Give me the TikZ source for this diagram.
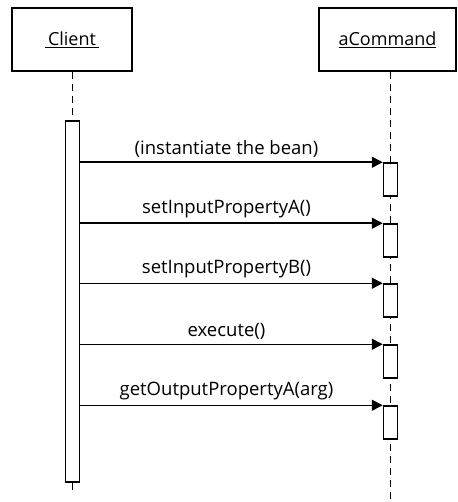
\documentclass[tikz,border=0pt]{standalone}
\usepackage{fontspec}
\setmainfont{Open Sans}
\usetikzlibrary{arrows.meta}

\tikzset{
  object/.style={draw,line width=1.5pt,fill=white,minimum width=120pt,minimum height=63pt,inner sep=0pt},
  actbar/.style={draw,line width=1.5pt,fill=white,minimum width=14pt,inner sep=0pt},
  lifeline/.style={line width=1.5pt,dash pattern=on 7pt off 5pt},
  msg/.style={line width=1.5pt,-{Triangle[length=11pt,width=11pt]}},
  msglabel/.style={above=1pt,xshift=-5pt,font=\fontsize{18.5}{21}\selectfont}
}

\begin{document}
\begin{tikzpicture}[x=1pt,y=-1pt]
        \useasboundingbox (0,0) rectangle (457,502) ;
        % objects
        \node[object] (client) at (72,39.5)
          {\fontsize{18}{21}\selectfont\underline{\,Client\,}} ;
        \node[object,minimum width=137pt] (cmd) at (387.5,39.5)
          {\fontsize{18}{21}\selectfont\underline{aCommand}} ;
        \coordinate (clientend) at (72.5,490) ;
        \coordinate (cmdend) at (390.5,502) ;
        % lifelines
        \draw[lifeline] (cmd.south -| cmdend) -- (cmdend) ;
        \node[actbar,minimum height=361pt] (clientbar) at (72.5,301.5) {} ;
        \draw[lifeline] (client.south -| clientbar.north) -- (clientbar.north) ;
        \draw[lifeline] (clientbar.south) -- (clientend) ;
        % activations of aCommand
        \node[actbar,minimum height=33pt] (recvA) at (390.5,179.5) {} ;
        \node[actbar,minimum height=33pt] (recvB) at (390.5,240.5) {} ;
        \node[actbar,minimum height=33pt] (recvC) at (390.5,300.5) {} ;
        \node[actbar,minimum height=33pt] (recvD) at (390.5,361.5) {} ;
        \node[actbar,minimum height=33pt] (recvE) at (390.5,422.5) {} ;
        % messages
        \draw[msg] (clientbar.east |- recvA.north west) -- (recvA.north west)
          node[msglabel,midway] {(instantiate the bean)} ;
        \draw[msg] (clientbar.east |- recvB.north west) -- (recvB.north west)
          node[msglabel,midway] {setInputPropertyA()} ;
        \draw[msg] (clientbar.east |- recvC.north west) -- (recvC.north west)
          node[msglabel,midway] {setInputPropertyB()} ;
        \draw[msg] (clientbar.east |- recvD.north west) -- (recvD.north west)
          node[msglabel,midway] {execute()} ;
        \draw[msg] (clientbar.east |- recvE.north west) -- (recvE.north west)
          node[msglabel,midway] {getOutputPropertyA(arg)} ;
      \end{tikzpicture}
\end{document}
